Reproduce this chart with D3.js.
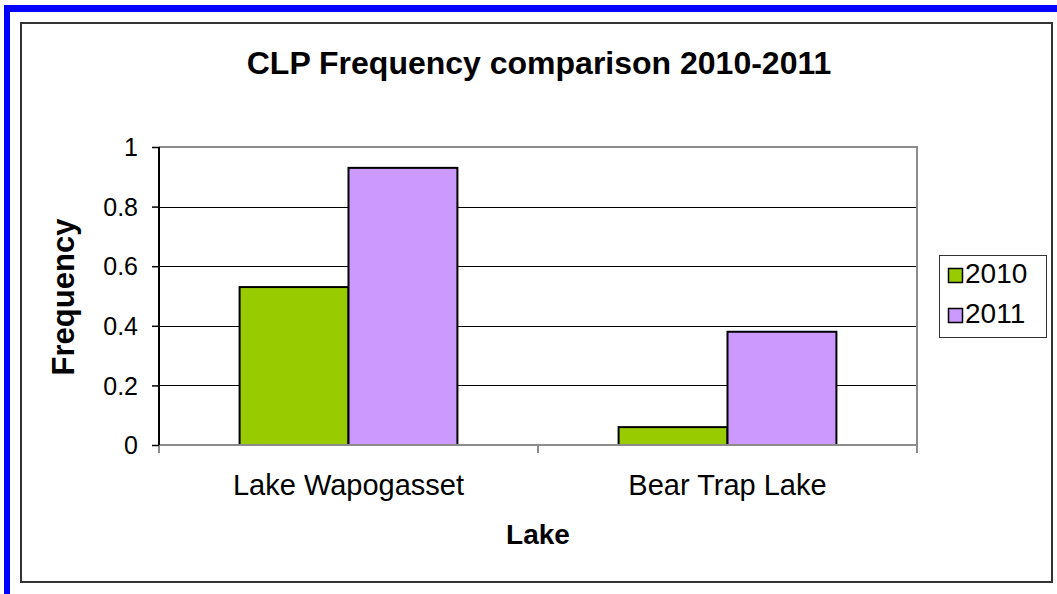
<!DOCTYPE html>
<html>
<head>
<meta charset="utf-8">
<script src="https://cdn.jsdelivr.net/npm/d3@7"></script>
<style>
  html, body { margin: 0; padding: 0; background: #fff; }
  svg { display: block; }
  text { font-family: Arial, "Liberation Sans", sans-serif; fill: #000; }
</style>
</head>
<body>
<svg id="chart" width="1057" height="594"></svg>
<script>
// Chart data
const categories = ["Lake Wapogasset", "Bear Trap Lake"];
const seriesNames = ["2010", "2011"];
const values2010 = [0.53, 0.06];
const values2011 = [0.93, 0.38];
const yTicks = [0, 0.2, 0.4, 0.6, 0.8, 1];
const seriesColors = ["#99CC00", "#CC99FF"];

const series = [values2010, values2011];

const svg = d3.select("#chart");

// Page border (blue strip along the top and left)
svg.append("rect").attr("x", 4).attr("y", 5).attr("width", 1053).attr("height", 7).attr("fill", "#0000FF");
svg.append("rect").attr("x", 4).attr("y", 5).attr("width", 6).attr("height", 589).attr("fill", "#0000FF");

// Chart frame
svg.append("rect")
  .attr("x", 21).attr("y", 23).attr("width", 1031).attr("height", 559)
  .attr("fill", "#fff").attr("stroke", "#333").attr("stroke-width", 2);

// Plot area
const plot = { left: 159, right: 917, top: 147, bottom: 445 };

const x0 = d3.scaleBand().domain(categories).range([plot.left, plot.right]).paddingInner(0).paddingOuter(0);
const x1 = d3.scaleBand().domain(seriesNames).range([0, x0.bandwidth()]).paddingInner(0).paddingOuter(0.74);
const y = d3.scaleLinear().domain([0, 1]).range([plot.bottom, plot.top]);

// Gridlines
svg.append("g").selectAll("line")
  .data(yTicks.filter(t => t > 0 && t < 1))
  .join("line")
  .attr("x1", plot.left).attr("x2", plot.right)
  .attr("y1", d => Math.round(y(d)) + 0.5).attr("y2", d => Math.round(y(d)) + 0.5)
  .attr("stroke", "#000").attr("stroke-width", 1);

// Plot border (top and right, gray)
svg.append("path")
  .attr("d", `M${plot.left},${plot.top}H${plot.right}V${plot.bottom}`)
  .attr("fill", "none").attr("stroke", "#8c8c8c").attr("stroke-width", 2);

// Bars
const groups = svg.append("g").selectAll("g")
  .data(categories)
  .join("g")
  .attr("transform", d => `translate(${x0(d)},0)`);

groups.selectAll("rect")
  .data((d, i) => seriesNames.map((s, j) => ({ s, v: series[j][i], c: seriesColors[j] })))
  .join("rect")
  .attr("x", d => x1(d.s))
  .attr("width", x1.bandwidth())
  .attr("y", d => y(d.v))
  .attr("height", d => y(0) - y(d.v))
  .attr("fill", d => d.c)
  .attr("stroke", "#000").attr("stroke-width", 2);

// X axis
const xAxis = svg.append("g")
  .attr("transform", `translate(0,${plot.bottom})`)
  .call(d3.axisBottom(x0).tickSize(0).tickPadding(0).tickFormat(""));
xAxis.select(".domain").remove();
xAxis.append("line").attr("x1", plot.left).attr("x2", plot.right).attr("y1", 0).attr("y2", 0)
  .attr("stroke", "#8c8c8c").attr("stroke-width", 2);
const boundaries = [plot.left].concat(categories.map(c => x0(c) + x0.bandwidth()));
xAxis.selectAll(".cat-tick").data(boundaries).join("line")
  .attr("class", "cat-tick")
  .attr("x1", d => d).attr("x2", d => d).attr("y1", 0).attr("y2", 8)
  .attr("stroke", "#8c8c8c").attr("stroke-width", 2);
xAxis.selectAll(".cat-label").data(categories).join("text")
  .attr("class", "cat-label")
  .attr("x", d => x0(d) + x0.bandwidth() / 2)
  .attr("y", 50)
  .attr("text-anchor", "middle")
  .attr("font-size", 29)
  .text(d => d);

// Y axis
const yAxis = svg.append("g")
  .attr("transform", `translate(${plot.left},0)`)
  .call(d3.axisLeft(y).tickValues(yTicks).tickSize(7).tickPadding(14)
    .tickFormat(d => d3.format("")(+d.toFixed(1))));
yAxis.select(".domain").attr("stroke", "#000").attr("stroke-width", 2).attr("d", `M0,${plot.top}V${plot.bottom}`);
yAxis.selectAll(".tick line").attr("stroke", "#000").attr("stroke-width", 1.5);
yAxis.selectAll(".tick text")
  .attr("font-size", 25)
  .attr("font-family", "Arial, 'Liberation Sans', sans-serif")
  .attr("fill", "#000")
  .attr("dy", "0.35em");

// Title
svg.append("text")
  .attr("x", 539).attr("y", 74)
  .attr("text-anchor", "middle")
  .attr("font-size", 32).attr("font-weight", "bold")
  .text("CLP Frequency comparison 2010-2011");

// Axis titles
svg.append("text")
  .attr("transform", "translate(74,297) rotate(-90)")
  .attr("text-anchor", "middle")
  .attr("font-size", 31).attr("font-weight", "bold")
  .text("Frequency");

svg.append("text")
  .attr("x", 538).attr("y", 544)
  .attr("text-anchor", "middle")
  .attr("font-size", 28).attr("font-weight", "bold")
  .text("Lake");

// Legend
const legend = svg.append("g");
legend.append("rect")
  .attr("x", 939.5).attr("y", 255.5).attr("width", 107).attr("height", 82)
  .attr("fill", "#fff").attr("stroke", "#333").attr("stroke-width", 1);
const items = legend.selectAll("g.item").data(seriesNames).join("g")
  .attr("class", "item")
  .attr("transform", (d, i) => `translate(948,${268 + i * 40})`);
items.append("rect")
  .attr("x", 0.5).attr("y", 0.5).attr("width", 14).attr("height", 14)
  .attr("fill", (d, i) => seriesColors[i]).attr("stroke", "#000").attr("stroke-width", 1.5);
items.append("text")
  .attr("x", 17).attr("y", 15)
  .attr("font-size", 28)
  .text(d => d);
</script>
</body>
</html>
